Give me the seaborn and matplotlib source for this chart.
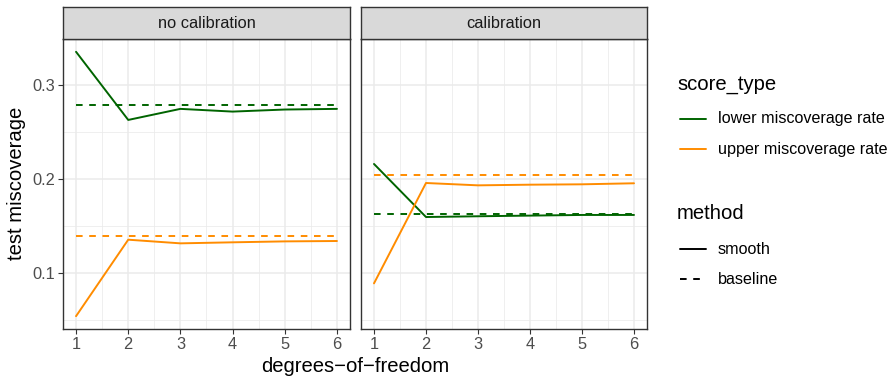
import numpy as np
import pandas as pd
import matplotlib
matplotlib.use("Agg")
import matplotlib.pyplot as plt
from matplotlib.lines import Line2D
import seaborn as sns

dof = [1, 2, 3, 4, 5, 6]
panels = ["no calibration", "calibration"]
score_types = ["lower miscoverage rate", "upper miscoverage rate"]
methods = ["smooth", "baseline"]

nocal_lower_smooth = [0.3358, 0.2631, 0.2749, 0.2720, 0.2742, 0.2749]
nocal_lower_baseline = [0.2795] * 6
nocal_upper_smooth = [0.0537, 0.1353, 0.1314, 0.1325, 0.1335, 0.1339]
nocal_upper_baseline = [0.1392] * 6
cal_lower_smooth = [0.2161, 0.1595, 0.1603, 0.1610, 0.1617, 0.1617]
cal_lower_baseline = [0.1627] * 6
cal_upper_smooth = [0.0887, 0.1958, 0.1933, 0.1940, 0.1944, 0.1955]
cal_upper_baseline = [0.2044] * 6

series = {
    ("no calibration", "lower miscoverage rate", "smooth"): nocal_lower_smooth,
    ("no calibration", "lower miscoverage rate", "baseline"): nocal_lower_baseline,
    ("no calibration", "upper miscoverage rate", "smooth"): nocal_upper_smooth,
    ("no calibration", "upper miscoverage rate", "baseline"): nocal_upper_baseline,
    ("calibration", "lower miscoverage rate", "smooth"): cal_lower_smooth,
    ("calibration", "lower miscoverage rate", "baseline"): cal_lower_baseline,
    ("calibration", "upper miscoverage rate", "smooth"): cal_upper_smooth,
    ("calibration", "upper miscoverage rate", "baseline"): cal_upper_baseline,
}
rows = []
for (p, s, m), vals in series.items():
    for d, v in zip(dof, vals):
        rows.append(dict(panel=p, score_type=s, method=m, dof=d, value=v))
df = pd.DataFrame(rows)

palette = {"lower miscoverage rate": "#006400", "upper miscoverage rate": "#FF8C00"}
dashes = {"smooth": "", "baseline": (3.4, 3.4)}

sns.set_style("white")
plt.rcParams["font.family"] = ["Liberation Sans", "DejaVu Sans"]

W, H = 890, 376
fig = plt.figure(figsize=(W / 100, H / 100), dpi=100)

def fx(px):
    return px / W

def fy(py):
    return 1 - py / H

panel_x = [(63, 350), (361, 647)]
ptop, pbot = 38.5, 329
strip_top = 7
TICK = 11.8
LW = 1.4

for (x0, x1), pname in zip(panel_x, panels):
    ax = fig.add_axes([fx(x0), fy(pbot), (x1 - x0) / W, (pbot - ptop) / H])
    sub = df[df.panel == pname]
    sns.lineplot(data=sub, x="dof", y="value", hue="score_type", style="method",
                 palette=palette, dashes=dashes, hue_order=score_types,
                 style_order=methods, linewidth=LW, legend=False, ax=ax, zorder=3)
    ax.set_xlim(0.75, 6.25)
    ax.set_ylim(0.040, 0.350)
    ax.set_xticks(dof)
    ax.set_yticks([0.1, 0.2, 0.3])
    ax.set_xticks([1.5, 2.5, 3.5, 4.5, 5.5], minor=True)
    ax.set_yticks([0.05, 0.15, 0.25], minor=True)
    ax.grid(which="major", color="#EBEBEB", linewidth=1.1, zorder=0)
    ax.grid(which="minor", color="#EBEBEB", linewidth=0.55, zorder=0)
    ax.set_axisbelow(True)
    for sp in ax.spines.values():
        sp.set_color("#333333")
        sp.set_linewidth(1.0)
    ax.tick_params(which="major", axis="both", length=3.5, width=0.8, color="#333333",
                   labelcolor="#4D4D4D", labelsize=TICK, pad=2, direction="out")
    ax.tick_params(which="minor", length=0)
    ax.tick_params(axis="x", bottom=True)
    ax.tick_params(axis="y", left=True)
    ax.set_xlabel("")
    ax.set_ylabel("")
    if pname != panels[0]:
        ax.tick_params(axis="y", left=False, labelleft=False)
    else:
        ax.set_yticklabels(["0.1", "0.2", "0.3"])
    sax = fig.add_axes([fx(x0), fy(ptop), (x1 - x0) / W, (ptop - strip_top) / H])
    sax.set_xticks([])
    sax.set_yticks([])
    sax.set_facecolor("#D9D9D9")
    for sp in sax.spines.values():
        sp.set_color("#333333")
        sp.set_linewidth(1.0)
    sax.text(0.5, 0.48, pname, ha="center", va="center", fontsize=TICK,
             color="#1A1A1A", transform=sax.transAxes)

fig.text(fx(355), fy(366), "degrees\u2212of\u2212freedom", ha="center", va="center",
         fontsize=14.6, color="black")
fig.text(fx(17), fy(183), "test miscoverage", ha="center", va="center",
         rotation=90, fontsize=14.6, color="black")

# legends (ggplot-style, drawn in figure pixel positions)
def legend_block(title, title_y, labels, ys, colors, styles):
    fig.text(fx(677), fy(title_y), title, ha="left", va="center", fontsize=14.6,
             color="black")
    for lab, y, c, ls in zip(labels, ys, colors, styles):
        fig.add_artist(Line2D([fx(680), fx(706)], [fy(y), fy(y)], color=c,
                              linewidth=LW, linestyle=ls, transform=fig.transFigure))
        fig.text(fx(718), fy(y), lab, ha="left", va="center", fontsize=11.6,
                 color="black")

legend_block("score_type", 84, score_types, [119, 149.3],
             [palette[s] for s in score_types], ["-", "-"])
legend_block("method", 213.3, methods, [249, 279.3],
             ["black", "black"], ["-", (0, (3.4, 3.4))])

fig.savefig("out.png", dpi=100)
